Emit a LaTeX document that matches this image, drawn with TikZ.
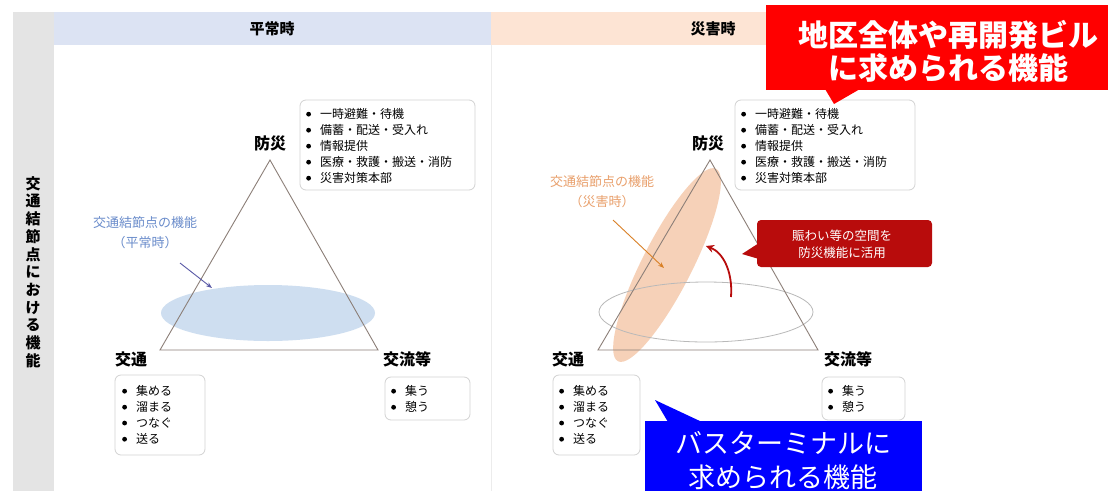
\documentclass[tikz,border=0pt]{standalone}
\usepackage{fontspec}
\setmainfont{Noto Sans CJK JP}
\usetikzlibrary{arrows.meta,shapes.geometric}
\definecolor{hdrblue}{HTML}{DCE3F3}
\definecolor{hdrpeach}{HTML}{FDE4D4}
\definecolor{sidegray}{HTML}{E4E4E4}
\definecolor{triline}{HTML}{8C7F78}
\definecolor{ellblue}{HTML}{C6D9EE}
\definecolor{ellpeach}{HTML}{F5CAAC}
\definecolor{lblblue}{HTML}{6A8CCB}
\definecolor{lblorange}{HTML}{E9A06C}
\definecolor{darkred}{HTML}{B80C0C}
\tikzset{
  x=1pt,y=-1pt,
  listbox/.style={draw=gray!35,line width=0.8pt,rounded corners=6pt},
  item/.style={anchor=west,font=\fontsize{12}{14}\selectfont,inner sep=0pt},
  vlabel/.style={font=\bfseries\fontsize{16}{18}\selectfont,inner sep=1pt},
  tri/.style={draw=triline,line width=0.9pt},
  bigcall/.style={text=white,font=\bfseries\fontsize{30}{33}\selectfont,align=center,inner sep=0pt},
}
\newcommand{\bul}{\raisebox{2pt}{\tikz[x=1pt,y=1pt]\fill (0,0) circle (2.4pt);}\hspace{9pt}}
\begin{document}
\begin{tikzpicture}
\useasboundingbox (0,0) rectangle (1108,491);
\fill[white] (0,0) rectangle (1108,491);
% side column and headers
\fill[sidegray] (13,12) rectangle (54,491);
\fill[hdrblue] (54,12) rectangle (491,45);
\fill[hdrpeach] (491,12) rectangle (1108,45);
\draw[gray!15] (491,45) -- (491,491);
\node[font=\bfseries\fontsize{15}{17}\selectfont] (hdrA) at (272,29) {平常時};
\node[font=\bfseries\fontsize{15}{17}\selectfont] (hdrB) at (713,29) {災害時};
\node[font=\bfseries\fontsize{15}{17.7}\selectfont,align=center,inner sep=0pt] (side) at (33,272)
 {交\\通\\結\\節\\点\\に\\お\\け\\る\\機\\能};

% ===== left panel =====
\fill[ellblue,opacity=0.85] (268,313) ellipse [x radius=107, y radius=28];
\coordinate (LA) at (270,160);
\coordinate (LB) at (160,350);
\coordinate (LC) at (378,350);
\draw[tri] (LA) -- (LB) -- (LC) -- cycle;
\node[vlabel] (LboA) at (270,143) {防災};
\node[vlabel] (LkoA) at (131,359) {交通};
\node[vlabel] (LryA) at (407,359) {交流等};
\node[text=lblblue,font=\fontsize{13}{20}\selectfont,align=center] (Llbl) at (145,233) {交通結節点の機能\\（平常時）};
\coordinate (Larr) at (212,288);
\draw[-{Stealth[length=6pt]},draw=gray!70!blue,line width=0.9pt] (180,263) -- (Larr);

\draw[listbox] (300,100) rectangle (475,190);
\node[item] (l1) at (306,114) {\bul 一時避難・待機};
\node[item] (l2) at (306,130) {\bul 備蓄・配送・受入れ};
\node[item] (l3) at (306,146) {\bul 情報提供};
\node[item] (l4) at (306,162) {\bul 医療・救護・搬送・消防};
\node[item] (l5) at (306,178) {\bul 災害対策本部};

\draw[listbox] (115,375) rectangle (205,455);
\node[item] (k1) at (122,391) {\bul 集める};
\node[item] (k2) at (122,407) {\bul 溜まる};
\node[item] (k3) at (122,423) {\bul つなぐ};
\node[item] (k4) at (122,439) {\bul 送る};

\draw[listbox] (385,377) rectangle (470,420);
\node[item] (r1) at (391,391) {\bul 集う};
\node[item] (r2) at (391,407) {\bul 憩う};

% ===== right panel =====
\coordinate (RA) at (710,160);
\coordinate (RB) at (598,350);
\coordinate (RC) at (818,350);
\fill[ellpeach,opacity=0.85,rotate around={63:(667,265)}] (667,265) ellipse [x radius=108, y radius=25];
\draw[gray!55,line width=0.8pt] (706,312) ellipse [x radius=107, y radius=30];
\draw[tri] (RA) -- (RB) -- (RC) -- cycle;
\node[vlabel] (RboA) at (708,143) {防災};
\node[vlabel] (RkoA) at (568,359) {交通};
\node[vlabel] (RryA) at (848,359) {交流等};
\node[text=lblorange,font=\fontsize{13}{20}\selectfont,align=center] (Rlbl) at (602,192) {交通結節点の機能\\（災害時）};
\coordinate (Rarr) at (664,268);
\draw[-{Stealth[length=6pt]},draw=brown!60!orange,line width=0.9pt] (613,220) -- (Rarr);

\draw[listbox] (735,100) rectangle (915,190);
\node[item] (m1) at (741,114) {\bul 一時避難・待機};
\node[item] (m2) at (741,130) {\bul 備蓄・配送・受入れ};
\node[item] (m3) at (741,146) {\bul 情報提供};
\node[item] (m4) at (741,162) {\bul 医療・救護・搬送・消防};
\node[item] (m5) at (741,178) {\bul 災害対策本部};

\draw[listbox] (553,375) rectangle (640,455);
\node[item] (n1) at (559,391) {\bul 集める};
\node[item] (n2) at (559,407) {\bul 溜まる};
\node[item] (n3) at (559,423) {\bul つなぐ};
\node[item] (n4) at (559,439) {\bul 送る};

\draw[listbox] (822,377) rectangle (905,420);
\node[item] (p1) at (828,391) {\bul 集う};
\node[item] (p2) at (828,407) {\bul 憩う};

% red box with pointer
\fill[darkred,rounded corners=4pt] (757,220) rectangle (932,267);
\fill[darkred] (759,243) -- (742,254) -- (759,259) -- cycle;
\node[text=white,font=\fontsize{12.5}{17}\selectfont,align=center] (redbox) at (842,244) {賑わい等の空間を\\防災機能に活用};
\coordinate (cvS) at (731,297);
\coordinate (cvE) at (706,246);
\draw[-{Stealth[length=8pt,width=8pt]},draw=darkred,line width=1.8pt] (cvS) .. controls (733,270) and (722,252) .. (cvE);

% big red callout
\fill[red] (766,5) rectangle (1108,90);
\fill[red] (825,89) -- (834,104) -- (860,89) -- cycle;
\node[bigcall] (callR) at (948,51) {地区全体や再開発ビル\\に求められる機能};

% big blue callout
\fill[blue] (645,421) rectangle (922,491);
\fill[blue] (668,422) -- (655,400) -- (702,422) -- cycle;
\node[bigcall,font=\fontsize{27}{34}\selectfont] (callB) at (783,461) {バスターミナルに\\求められる機能};
\end{tikzpicture}
\end{document}
